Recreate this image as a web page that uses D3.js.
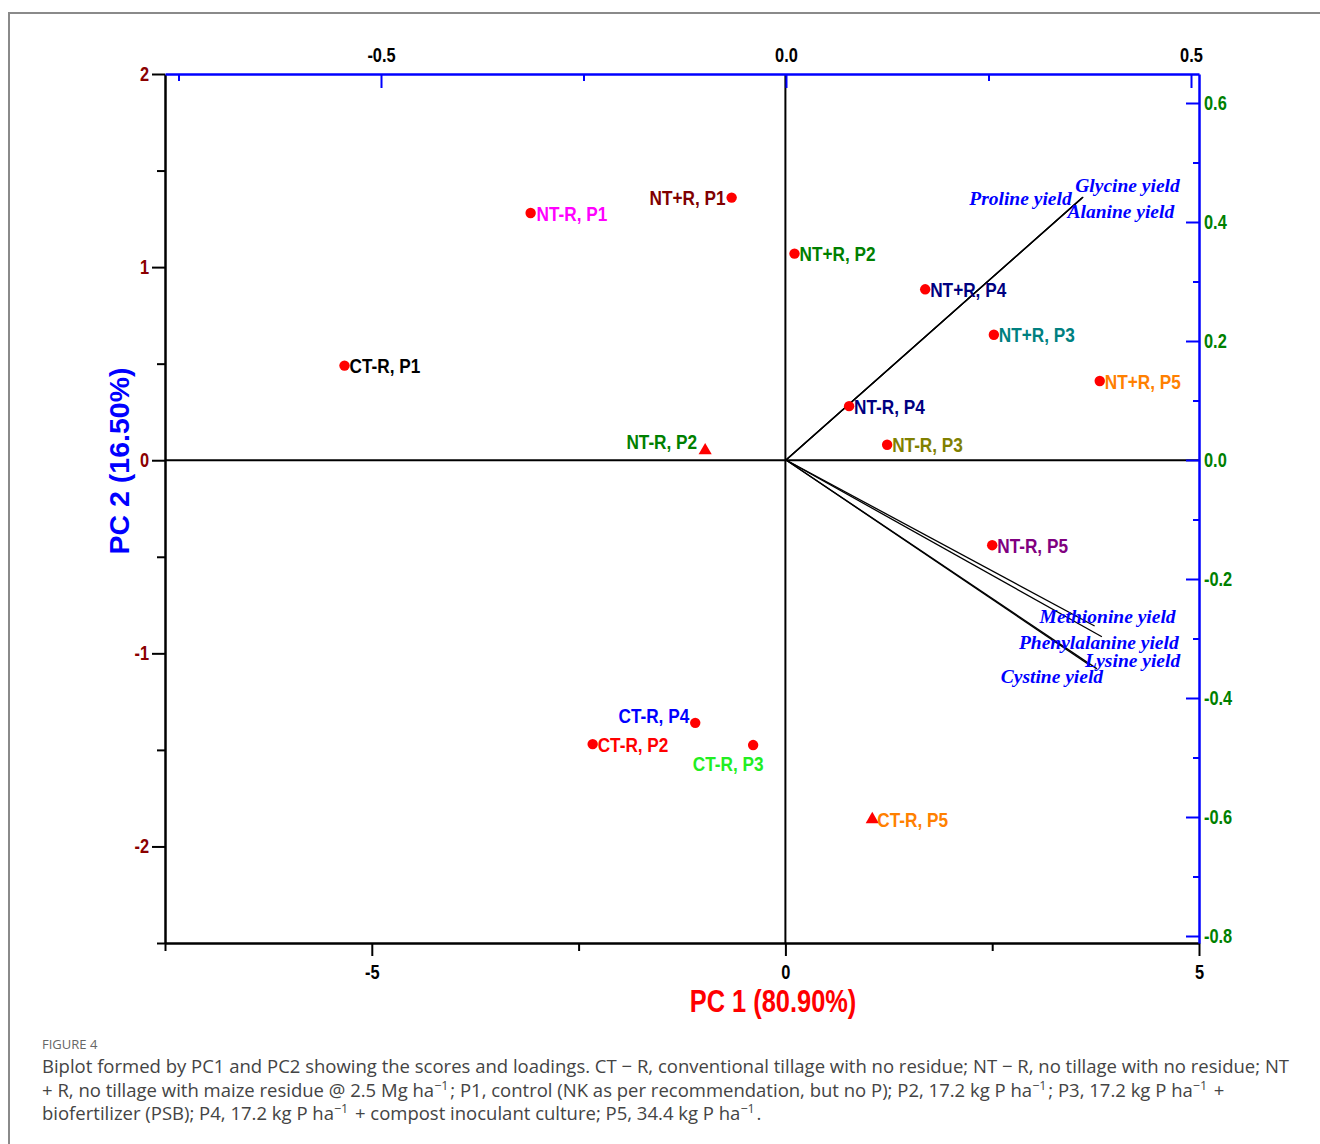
<!DOCTYPE html>
<html><head><meta charset="utf-8">
<script src="https://cdn.jsdelivr.net/npm/d3@7"></script>
<style>
html,body{margin:0;padding:0;background:#fff;}
svg{display:block;}
</style></head>
<body>
<svg id="chart" width="1320" height="1144"></svg>
<script>
// ---------- DATA ----------
const scoreLabels = ["CT-R, P1","NT-R, P1","NT+R, P1","NT+R, P2","NT+R, P4","NT+R, P3","NT+R, P5","NT-R, P4","NT-R, P3","NT-R, P2","NT-R, P5","CT-R, P4","CT-R, P2","CT-R, P3","CT-R, P5"];
const pc1Scores = [-5.33,-3.08,-0.65,0.11,1.69,2.52,3.80,0.77,1.23,-0.97,2.50,-1.09,-2.33,-0.39,1.05];
const pc2Scores = [0.49,1.28,1.36,1.07,0.885,0.65,0.41,0.28,0.08,0.05,-0.44,-1.36,-1.47,-1.475,-1.86];
const scoreMarkers = ["circle","circle","circle","circle","circle","circle","circle","circle","circle","triangle","circle","circle","circle","circle","triangle"];

const variables = ["Glycine yield","Proline yield","Alanine yield","Methionine yield","Phenylalanine yield","Lysine yield","Cystine yield"];
const pc1Loadings = [0.367,0.365,0.366,0.381,0.390,0.384,0.375];
const pc2Loadings = [0.442,0.440,0.441,-0.279,-0.297,-0.351,-0.345];

const pc1ScoreTicks = [-7.5,-5,-2.5,0,2.5,5];
const pc1ScoreLabels = [-5,0,5];
const pc2ScoreTicks = [-2.5,-2,-1.5,-1,-0.5,0,0.5,1,1.5,2];
const pc2ScoreLabels = [-2,-1,0,1,2];
const pc1LoadTicks = [-0.75,-0.5,-0.25,0,0.25,0.5];
const pc1LoadLabels = [-0.5,0,0.5];
const pc2LoadTicks = [-0.8,-0.7,-0.6,-0.5,-0.4,-0.3,-0.2,-0.1,0,0.1,0.2,0.3,0.4,0.5,0.6];
const pc2LoadLabels = [-0.8,-0.6,-0.4,-0.2,0,0.2,0.4,0.6];

const xTitle = "PC 1 (80.90%)";
const yTitle = "PC 2 (16.50%)";
const figureLabel = "FIGURE 4";
const captionLines = [
  "Biplot formed by PC1 and PC2 showing the scores and loadings. CT − R, conventional tillage with no residue; NT − R, no tillage with no residue; NT",
  "+ R, no tillage with maize residue @ 2.5 Mg ha^{−1}; P1, control (NK as per recommendation, but no P); P2, 17.2 kg P ha^{−1}; P3, 17.2 kg P ha^{−1} +",
  "biofertilizer (PSB); P4, 17.2 kg P ha^{−1} + compost inoculant culture; P5, 34.4 kg P ha^{−1}."
];

// ---------- STYLE / PLACEMENT ----------
const scoreColors = ["#000000","#FF00FF","#800000","#008000","#000080","#008080","#FF8000","#000080","#808000","#008000","#800080","#0000FF","#FF0000","#22EE22","#FF8000"];
// [anchor, dx, dy] relative to marker
const scoreLabelPlace = [
 ["start",5,0],["start",6,0],["end",-6,0],["start",5,0],["start",5,0],["start",5,0],["start",5,0],
 ["start",5,0],["start",5,0],["end",-8,-9],["start",5,0],["end",-6,-7],["start",5,0],["middle",-25,18],["start",5,0]
];
const loadLabelPlace = [
 ["start",-8,-5],["end",-10,7],["start",-15,20],["start",-55,-3],["start",-83,12],["start",-12,-2],["start",-89,18]
];

const SANS = "'Liberation Sans',Arial,sans-serif";
const SQ = 0.82; // horizontal squeeze to mimic a narrow face

// ---------- SCALES ----------
const L=165, R=1199, T=74, B=943;
const xS = d3.scaleLinear().domain([-7.5,5]).range([L,R]);
const yS = d3.scaleLinear().domain([-2.5,2]).range([B,T]);
const xL = d3.scaleLinear().domain([-621/810,413/810]).range([L,R]);
const yL = d3.scaleLinear().domain([386/595,-483/595]).range([T,B]);

const svg = d3.select("#chart");

// frame
svg.append("path").attr("d","M9,1144 V13 H1320").attr("fill","none").attr("stroke","#8a8a8a").attr("stroke-width",2);

const fmt = d => d3.format(".1f")(d).replace("−","-");
const near = (arr,d) => arr.some(v=>Math.abs(v-d)<1e-9);

// zero lines
svg.append("line").attr("x1",L).attr("x2",R).attr("y1",yS(0)).attr("y2",yS(0)).attr("stroke","#000").attr("stroke-width",2);
svg.append("line").attr("x1",xS(0)).attr("x2",xS(0)).attr("y1",T).attr("y2",B).attr("stroke","#000").attr("stroke-width",2);

// left axis
const gL = svg.append("g").attr("transform",`translate(${L},0)`)
  .call(d3.axisLeft(yS).tickValues(pc2ScoreTicks).tickSizeOuter(0).tickPadding(6)
  .tickFormat(d => near(pc2ScoreLabels,d) ? String(d).replace("−","-") : ""));
gL.selectAll(".tick line").attr("x2", d => near(pc2ScoreLabels,d) ? -13 : -8);

// bottom axis
const gB = svg.append("g").attr("transform",`translate(0,${B})`)
  .call(d3.axisBottom(xS).tickValues(pc1ScoreTicks).tickSizeOuter(0).tickPadding(6)
  .tickFormat(d => near(pc1ScoreLabels,d) ? String(d).replace("−","-") : ""));
gB.selectAll(".tick line").attr("y2", d => near(pc1ScoreLabels,d) ? 13 : 8);

// top axis (loadings)
const gT = svg.append("g").attr("transform",`translate(0,${T})`)
  .call(d3.axisTop(xL).tickValues(pc1LoadTicks).tickSizeOuter(0).tickSizeInner(-14).tickPadding(12)
  .tickFormat(d => near(pc1LoadLabels,d) ? fmt(d) : ""));
gT.selectAll(".tick line").attr("y2", d => near(pc1LoadLabels,d) ? 14 : 7);

// right axis (loadings)
const gR = svg.append("g").attr("transform",`translate(${R},0)`)
  .call(d3.axisRight(yL).tickValues(pc2LoadTicks).tickSizeOuter(0).tickSizeInner(-13).tickPadding(5)
  .tickFormat(d => near(pc2LoadLabels,d) ? fmt(d) : ""));
gR.selectAll(".tick line").attr("x2", d => near(pc2LoadLabels,d) ? -13 : -6);

// axis styling
[gL,gB].forEach(g=>{ g.select(".domain").attr("stroke","#000").attr("stroke-width",2.5); g.selectAll(".tick line").attr("stroke","#000").attr("stroke-width",2); });
[gT,gR].forEach(g=>{ g.select(".domain").attr("stroke","#0000FF").attr("stroke-width",2.5); g.selectAll(".tick line").attr("stroke","#0000FF").attr("stroke-width",2); });
svg.selectAll(".tick text").filter(function(){ return this.textContent===""; }).remove();
svg.selectAll(".tick text").attr("font-family",SANS).attr("font-weight","bold").attr("font-size",20);
gL.selectAll(".tick text").attr("fill","#8B0000").attr("x",-16/SQ).attr("transform",`scale(${SQ},1)`);
gB.selectAll(".tick text").attr("fill","#000").attr("y",22).attr("transform",`scale(${SQ},1)`);
gT.selectAll(".tick text").attr("fill","#000").attr("transform",`scale(${SQ},1)`);
gR.selectAll(".tick text").attr("fill","#008000").attr("x",5/SQ).attr("transform",`scale(${SQ},1)`);

// loading vectors
const loads = variables.map((v,i)=>({v, x:pc1Loadings[i], y:pc2Loadings[i], p:loadLabelPlace[i]}));
svg.append("g").selectAll("line").data(loads).join("line")
  .attr("x1",xL(0)).attr("y1",yL(0)).attr("x2",d=>xL(d.x)).attr("y2",d=>yL(d.y))
  .attr("stroke","#000").attr("stroke-width",1.3);
svg.append("g").selectAll("text").data(loads).join("text")
  .attr("x",d=>xL(d.x)+d.p[1]).attr("y",d=>yL(d.y)+d.p[2]).attr("text-anchor",d=>d.p[0])
  .attr("font-family","'Liberation Serif','Times New Roman',serif").attr("font-style","italic").attr("font-weight","bold")
  .attr("font-size",19.5).attr("fill","#0000FF").text(d=>d.v);

// scores
const scores = scoreLabels.map((s,i)=>({s, x:pc1Scores[i], y:pc2Scores[i], m:scoreMarkers[i], c:scoreColors[i], p:scoreLabelPlace[i]}));
const gS = svg.append("g");
gS.selectAll("path").data(scores).join("path")
  .attr("transform",d=>`translate(${xS(d.x)},${yS(d.y)})`)
  .attr("d",d=> d3.symbol().type(d.m==="triangle"?d3.symbolTriangle:d3.symbolCircle).size(d.m==="triangle"?75:85)())
  .attr("fill","#FF0000");
gS.selectAll("text").data(scores).join("text")
  .attr("transform",d=>`translate(${xS(d.x)+d.p[1]},${yS(d.y)+d.p[2]}) scale(${SQ},1)`)
  .attr("dy","0.36em").attr("text-anchor",d=>d.p[0])
  .attr("font-family",SANS).attr("font-weight","bold").attr("font-size",21).attr("fill",d=>d.c).text(d=>d.s);

// axis titles
svg.append("text").attr("transform",`translate(773,1012) scale(${SQ},1)`).attr("text-anchor","middle")
  .attr("font-family",SANS).attr("font-weight","bold").attr("font-size",31).attr("fill","#FF0000").text(xTitle);
svg.append("text").attr("transform","translate(129,461) rotate(-90)").attr("text-anchor","middle")
  .attr("font-family",SANS).attr("font-weight","bold").attr("font-size",28.5).attr("fill","#0000FF").text(yTitle);

// caption
const CAP = "'Open Sans',Lato,sans-serif";
svg.append("text").attr("x",42).attr("y",1049).attr("font-family",CAP)
  .attr("font-size",13).attr("fill","#666").text(figureLabel);
const capBase = [1073,1097,1120];
captionLines.forEach((line,i)=>{
  const t = svg.append("text").attr("x",42).attr("y",capBase[i]).attr("font-family",CAP)
    .attr("font-size",18.5).attr("fill","#444");
  const parts = line.split(/(\^\{[^}]*\})/);
  parts.forEach(p=>{
    if(!p) return;
    const m = p.match(/^\^\{([^}]*)\}$/);
    if(m){ t.append("tspan").attr("dy",-7).attr("font-size",12.5).text(m[1]); t.append("tspan").attr("dy",7).text("\u200A"); }
    else t.append("tspan").text(p);
  });
});
</script>
</body></html>
